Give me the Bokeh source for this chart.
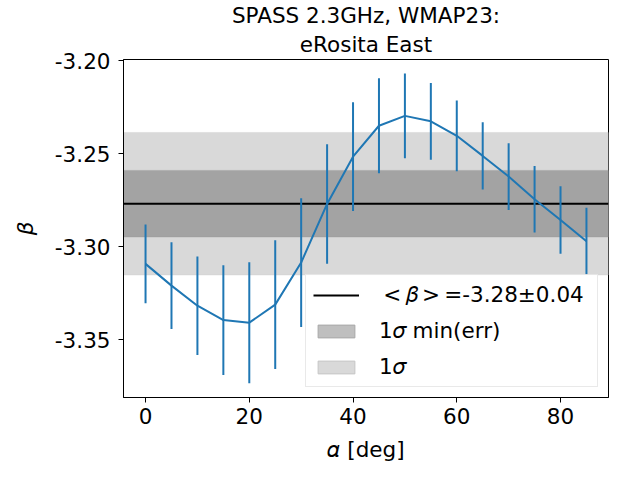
import numpy as np
from bokeh.plotting import figure
from bokeh.models import (Range1d, FixedTicker, PrintfTickFormatter, Span,
                          BoxAnnotation, Legend, LegendItem, Title)
from bokeh.embed import file_html
from bokeh.resources import INLINE

# ---- data ----
alpha_deg = [0, 5, 10, 15, 20, 25, 30, 35, 40, 45, 50, 55, 60, 65, 70, 75, 80, 85]
beta = [-3.3091, -3.3208, -3.3316, -3.3393, -3.3407, -3.3310, -3.3084, -3.2769,
        -3.2515, -3.2349, -3.2296, -3.2325, -3.2403, -3.2511, -3.2622, -3.2744,
        -3.2855, -3.2970]
beta_err = [0.0212, 0.0233, 0.0264, 0.0295, 0.0325, 0.0346, 0.0346, 0.0321,
            0.0292, 0.0255, 0.0228, 0.0206, 0.0190, 0.0181, 0.0179, 0.0179,
            0.0181, 0.0181]
mean_beta = -3.2768
sigma_beta = 0.0383
title_line1 = "SPASS 2.3GHz, WMAP23:"
title_line2 = "eRosita East"
x_ticks = [0, 20, 40, 60, 80]
y_ticks = [-3.35, -3.30, -3.25, -3.20]
legend_labels = ["\u2009<\u2009\U0001D6FD\u2009>\u2009=-3.28\u00b10.04",
                 "1\U0001D70E min(err)", "1\U0001D70E"]

FONT = "DejaVu Sans"
FS = "21.5px"
BLUE = "#1f77b4"

x = np.array(alpha_deg, dtype=float)
y = np.array(beta)
e = np.array(beta_err)
err_min = float(e.min())

p = figure(width=640, height=480, output_backend="svg", toolbar_location=None,
           title=None,
           x_range=Range1d(-4.25, 89.25), y_range=Range1d(-3.3809, -3.1993),
           min_border_left=123, min_border_right=32, min_border_top=59,
           min_border_bottom=83)
p.background_fill_color = "white"
p.border_fill_color = "white"
p.outline_line_color = "black"
p.outline_line_width = 1
p.xgrid.visible = False
p.ygrid.visible = False

# bands
light = BoxAnnotation(bottom=mean_beta - sigma_beta, top=mean_beta + sigma_beta,
                      fill_color="#d9d9d9", fill_alpha=1.0,
                      line_color="#c8c8c8", line_width=1, level="underlay")
dark = BoxAnnotation(bottom=mean_beta - err_min, top=mean_beta + err_min,
                     fill_color="#a3a3a3", fill_alpha=1.0,
                     line_color="#939393", line_width=1, level="underlay")
p.add_layout(light)
p.add_layout(dark)
p.add_layout(Span(location=mean_beta, dimension="width", line_color="black",
                  line_width=2, level="underlay"))

# data
p.segment(x0=x, y0=y - e, x1=x, y1=y + e, line_color=BLUE, line_width=2)
p.line(x, y, line_color=BLUE, line_width=2)

# legend proxies (NaN data, only used for the legend glyphs)
nan = [float("nan")]
r_line = p.line(x=nan, y=nan, line_color="black", line_width=2)
r_dark = p.quad(left=nan, right=nan, top=nan, bottom=nan, fill_color="#bfbfbf",
                line_color="#a8a8a8", line_width=1)
r_light = p.quad(left=nan, right=nan, top=nan, bottom=nan, fill_color="#d9d9d9",
                 line_color="#c6c6c6", line_width=1)
legend = Legend(items=[LegendItem(label=legend_labels[0], renderers=[r_line]),
                       LegendItem(label=legend_labels[1], renderers=[r_dark]),
                       LegendItem(label=legend_labels[2], renderers=[r_light])],
                location="bottom_right", margin=10, padding=7,
                glyph_width=46, glyph_height=16, label_standoff=20,
                label_width=211, label_height=20, spacing=11,
                label_text_font=FONT, label_text_font_size=FS,
                label_text_color="black",
                background_fill_color="white", background_fill_alpha=0.85,
                border_line_color="#d4d4d4", border_line_width=1)
p.add_layout(legend)

# axes
for ax in (p.xaxis[0], p.yaxis[0]):
    ax.axis_line_color = "black"
    ax.major_tick_line_color = "black"
    ax.minor_tick_line_color = None
    ax.major_tick_out = 5
    ax.major_tick_in = 0
    ax.major_label_text_font = FONT
    ax.major_label_text_font_size = FS
    ax.major_label_text_color = "black"
    ax.axis_label_text_font = FONT
    ax.axis_label_text_font_size = FS
    ax.axis_label_text_color = "black"

p.xaxis.ticker = FixedTicker(ticks=x_ticks)
p.yaxis.ticker = FixedTicker(ticks=y_ticks)
p.yaxis.formatter = PrintfTickFormatter(format="%.2f")
p.xaxis.axis_label = "\U0001D6FC [deg]"
p.xaxis.axis_label_text_font_style = "normal"
p.yaxis.axis_label = "\u03b2"
p.yaxis.axis_label_text_font_style = "italic"
p.xaxis.major_label_standoff = 5
p.yaxis.major_label_standoff = 8
p.xaxis.axis_label_standoff = 10
p.yaxis.axis_label_standoff = 14

# titles: second line added first so that it sits closest to the plot
p.add_layout(Title(text=title_line2, align="center", text_font=FONT,
                   text_font_size=FS, text_font_style="normal",
                   text_color="black", standoff=5), "above")
p.add_layout(Title(text=title_line1, align="center", text_font=FONT,
                   text_font_size=FS, text_font_style="normal",
                   text_color="black", standoff=0), "above")

open("out.html", "w").write(file_html(p, INLINE))
